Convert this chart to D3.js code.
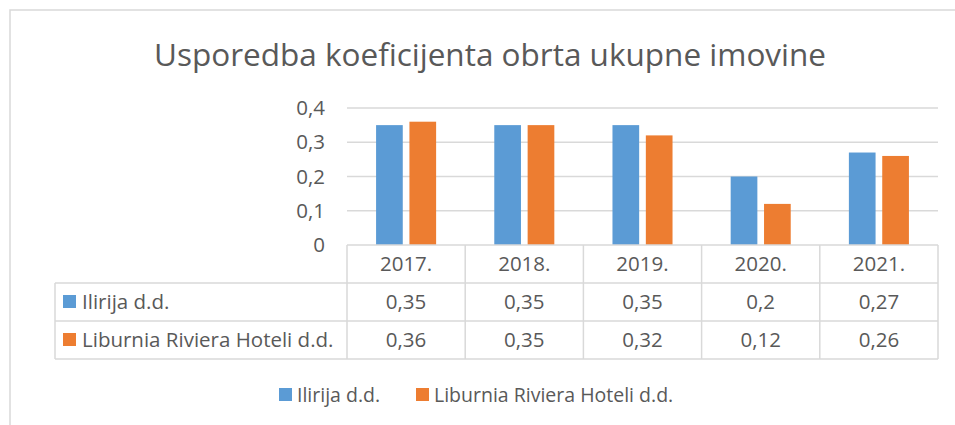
<!DOCTYPE html>
<html>
<head>
<meta charset="utf-8">
<script src="https://cdn.jsdelivr.net/npm/d3@7"></script>
<style>
  body { margin: 0; background: #fff; }
  text { font-family: "Open Sans", Lato, sans-serif; fill: #595959; }
</style>
</head>
<body>
<div id="chart"></div>
<script>
// data
const years = ["2017.", "2018.", "2019.", "2020.", "2021."];
const seriesNames = ["Ilirija d.d.", "Liburnia Riviera Hoteli d.d."];
const ilirija = [0.35, 0.35, 0.35, 0.2, 0.27];
const liburnia = [0.36, 0.35, 0.32, 0.12, 0.26];
const yTicks = [0, 0.1, 0.2, 0.3, 0.4];
const colors = ["#5B9BD5", "#ED7D31"];

const W = 955, H = 425;
const plot = {left: 347, right: 938, top: 108, bottom: 245};
const rowH = 38;
const tableLeft = 55;

const svg = d3.select("#chart").append("svg")
    .attr("width", W)
    .attr("height", H);

// chart frame (runs off the right and bottom edge)
svg.append("rect")
    .attr("x", 10).attr("y", 10)
    .attr("width", W + 20).attr("height", H + 20)
    .attr("fill", "none")
    .attr("stroke", "#d9d9d9")
    .attr("stroke-width", 1.5);

const fmt = (v) => String(v).replace(".", ",");
const values = [ilirija, liburnia];

const x0 = d3.scaleBand()
    .domain(years)
    .range([plot.left, plot.right])
    .padding(0);

const groupW = x0.bandwidth() * 0.508;
const x1 = d3.scaleBand()
    .domain(seriesNames)
    .range([(x0.bandwidth() - groupW) / 2, (x0.bandwidth() + groupW) / 2])
    .paddingInner(0.2);

const y = d3.scaleLinear()
    .domain([0, 0.4])
    .range([plot.bottom, plot.top]);

// title
svg.append("text")
    .attr("x", 490)
    .attr("y", 66)
    .attr("text-anchor", "middle")
    .style("font-size", "31.5px")
    .text("Usporedba koeficijenta obrta ukupne imovine");

// gridlines
svg.append("g")
    .selectAll("line")
    .data(yTicks.slice(1))
    .join("line")
    .attr("x1", plot.left)
    .attr("x2", plot.right)
    .attr("y1", (d) => y(d))
    .attr("y2", (d) => y(d))
    .attr("stroke", "#d9d9d9")
    .attr("stroke-width", 1.3);

// y axis labels
const yAxis = svg.append("g")
    .attr("transform", `translate(${plot.left},0)`)
    .call(d3.axisLeft(y).tickValues(yTicks).tickFormat(fmt).tickSize(0).tickPadding(22));
yAxis.select(".domain").remove();
yAxis.selectAll("text")
    .style("font-size", "20.5px")
    .attr("fill", "#595959")
    .style("font-family", "'Open Sans', sans-serif");

// bars
const groups = svg.append("g")
    .selectAll("g")
    .data(years)
    .join("g")
    .attr("transform", (d) => `translate(${x0(d)},0)`);

groups.selectAll("rect")
    .data((d, i) => seriesNames.map((s, k) => ({s: s, k: k, v: values[k][i]})))
    .join("rect")
    .attr("x", (d) => x1(d.s))
    .attr("y", (d) => y(d.v))
    .attr("width", x1.bandwidth())
    .attr("height", (d) => y(0) - y(d.v))
    .attr("fill", (d) => colors[d.k]);

// data table
const table = svg.append("g");
const lineColor = "#d9d9d9";
const rowTop = (r) => plot.bottom + r * rowH;

// horizontal lines
table.append("line")
    .attr("x1", plot.left).attr("x2", plot.right)
    .attr("y1", rowTop(0)).attr("y2", rowTop(0))
    .attr("stroke", lineColor).attr("stroke-width", 1.5);
[1, 2, 3].forEach((r) => {
    table.append("line")
        .attr("x1", tableLeft).attr("x2", plot.right)
        .attr("y1", rowTop(r)).attr("y2", rowTop(r))
        .attr("stroke", lineColor).attr("stroke-width", 1.5);
});
// vertical lines
table.append("line")
    .attr("x1", tableLeft).attr("x2", tableLeft)
    .attr("y1", rowTop(1)).attr("y2", rowTop(3))
    .attr("stroke", lineColor).attr("stroke-width", 1.5);
table.selectAll(".vline")
    .data(years.map((d) => x0(d)).concat([plot.right]))
    .join("line")
    .attr("class", "vline")
    .attr("x1", (d) => d).attr("x2", (d) => d)
    .attr("y1", rowTop(0)).attr("y2", rowTop(3))
    .attr("stroke", lineColor).attr("stroke-width", 1.5);

// header row
table.selectAll(".yr")
    .data(years)
    .join("text")
    .attr("class", "yr")
    .attr("x", (d) => x0(d) + x0.bandwidth() / 2)
    .attr("y", rowTop(0) + rowH / 2)
    .attr("dy", "0.36em")
    .attr("text-anchor", "middle")
    .style("font-size", "20.5px")
    .text((d) => d);

// series rows
seriesNames.forEach((s, k) => {
    const cy = rowTop(k + 1) + rowH / 2;
    table.append("rect")
        .attr("x", 63).attr("y", cy - 7)
        .attr("width", 13).attr("height", 13)
        .attr("fill", colors[k]);
    table.append("text")
        .attr("x", 82)
        .attr("y", cy)
        .attr("dy", "0.36em")
        .style("font-size", "20.5px")
        .text(s);
    table.selectAll(".v" + k)
        .data(values[k])
        .join("text")
        .attr("class", "v" + k)
        .attr("x", (d, i) => x0(years[i]) + x0.bandwidth() / 2)
        .attr("y", cy)
        .attr("dy", "0.36em")
        .attr("text-anchor", "middle")
        .style("font-size", "20.5px")
        .text((d) => fmt(d));
});

// bottom legend
const legend = svg.append("g").attr("transform", "translate(0,395)");
const legendX = [279, 416];
seriesNames.forEach((s, k) => {
    legend.append("rect")
        .attr("x", legendX[k]).attr("y", -7)
        .attr("width", 13).attr("height", 13)
        .attr("fill", colors[k]);
    legend.append("text")
        .attr("x", legendX[k] + 18)
        .attr("y", 0)
        .attr("dy", "0.36em")
        .style("font-size", "19.5px")
        .text(s);
});
</script>
</body>
</html>
